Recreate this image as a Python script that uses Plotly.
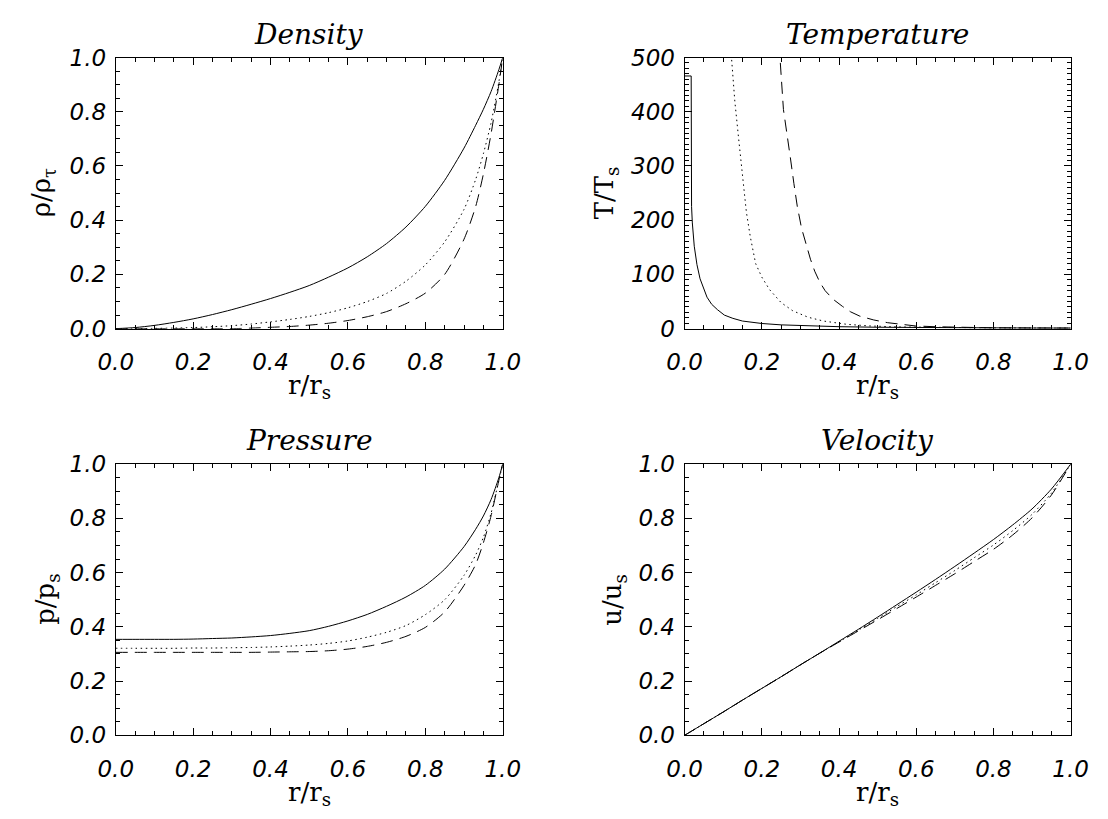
import plotly.graph_objects as go

# ── data ─────────────────────────────────────────────────────────────────
r_grid = [0.0, 0.05, 0.1, 0.15, 0.2, 0.25, 0.3, 0.35, 0.4, 0.45, 0.5, 0.55, 0.6,
          0.65, 0.7, 0.75, 0.8, 0.85, 0.9, 0.93, 0.95, 0.97, 0.99, 1.0]

density_solid = [0.0, 0.004, 0.012, 0.023, 0.036, 0.052, 0.07, 0.09, 0.111, 0.134, 0.159, 0.19, 0.224,
                 0.265, 0.314, 0.375, 0.451, 0.547, 0.666, 0.75, 0.809, 0.875, 0.955, 1.0]
density_dot = [0.0, 0.0, 0.001, 0.002, 0.004, 0.007, 0.011, 0.017, 0.025, 0.034, 0.045, 0.059, 0.077,
               0.1, 0.13, 0.175, 0.235, 0.32, 0.44, 0.55, 0.645, 0.76, 0.91, 1.0]
density_dash = [0.0, 0.0, 0.0, 0.0, 0.0, 0.0, 0.0, 0.002, 0.005, 0.008, 0.013, 0.02, 0.03,
                0.044, 0.063, 0.092, 0.131, 0.2, 0.33, 0.45, 0.57, 0.72, 0.9, 1.0]

pressure_solid = [0.354, 0.354, 0.354, 0.354, 0.355, 0.357, 0.359, 0.363, 0.368, 0.376, 0.386, 0.402, 0.422,
                  0.446, 0.476, 0.51, 0.553, 0.613, 0.696, 0.76, 0.809, 0.87, 0.95, 1.0]
pressure_dot = [0.321, 0.321, 0.321, 0.321, 0.322, 0.322, 0.323, 0.324, 0.326, 0.329, 0.333, 0.339, 0.348,
                0.362, 0.38, 0.405, 0.445, 0.5, 0.59, 0.665, 0.73, 0.82, 0.94, 1.0]
pressure_dash = [0.306, 0.306, 0.306, 0.306, 0.306, 0.306, 0.306, 0.306, 0.307, 0.308, 0.309, 0.312, 0.318,
                 0.328, 0.343, 0.365, 0.398, 0.455, 0.553, 0.63, 0.71, 0.81, 0.94, 1.0]

r_vel = [0.0, 0.05, 0.1, 0.15, 0.2, 0.25, 0.3, 0.35, 0.4, 0.45, 0.5, 0.55, 0.6,
         0.65, 0.7, 0.75, 0.8, 0.85, 0.9, 0.95, 1.0]
velocity_solid = [0.0, 0.043, 0.086, 0.13, 0.173, 0.216, 0.26, 0.303, 0.347, 0.391, 0.436, 0.482, 0.528,
                  0.575, 0.623, 0.672, 0.722, 0.776, 0.835, 0.908, 1.0]
velocity_dot = [0.0, 0.043, 0.086, 0.13, 0.173, 0.216, 0.26, 0.303, 0.345, 0.388, 0.431, 0.475, 0.518,
                0.563, 0.608, 0.655, 0.702, 0.755, 0.815, 0.893, 1.0]
velocity_dash = [0.0, 0.043, 0.086, 0.13, 0.173, 0.216, 0.26, 0.303, 0.344, 0.385, 0.426, 0.468, 0.51,
                 0.553, 0.596, 0.641, 0.686, 0.739, 0.802, 0.886, 1.0]

r_temp_solid = [0.0, 0.017, 0.018, 0.02, 0.025, 0.032, 0.04, 0.05, 0.058, 0.07, 0.085, 0.103,
                0.125, 0.15, 0.2, 0.25, 0.3, 0.4, 0.5, 0.6, 0.7, 0.8, 0.9, 1.0]
temp_solid = [466, 466, 225, 195, 152, 118, 92, 72, 58, 45, 35, 25,
              19, 14, 9.5, 7, 5.5, 3.6, 2.6, 2, 1.6, 1.3, 1.1, 1.0]
r_temp_dot = [0.115, 0.121, 0.13, 0.14, 0.15, 0.16, 0.17, 0.184, 0.2, 0.22, 0.25, 0.28,
              0.32, 0.36, 0.42, 0.48, 0.55, 0.65, 0.8, 1.0]
temp_dot = [560, 500, 420, 350, 280, 215, 170, 120, 95, 72, 48, 33,
            21, 14, 8, 5, 3.2, 2.2, 1.4, 1.0]
r_temp_dash = [0.24, 0.247, 0.256, 0.265, 0.274, 0.283, 0.292, 0.303, 0.315, 0.326, 0.337, 0.35,
               0.364, 0.385, 0.409, 0.43, 0.454, 0.49, 0.526, 0.56, 0.598, 0.65, 0.724, 0.8, 0.9, 1.0]
temp_dash = [560, 500, 404, 355, 315, 268, 225, 185, 154, 128, 106, 86,
             70, 54, 41, 31, 23, 16, 11, 7.5, 5, 3.5, 2, 1.5, 1.2, 1.0]

W, H = 1108, 819
TICK_FONT = dict(family="DejaVu Sans", size=23, color="black", style="italic")
TITLE_FONT = dict(family="DejaVu Serif", size=28, color="black", style="italic")
LABEL_FONT = dict(family="DejaVu Serif", size=26, color="black")

DOT = "1.5px,3.5px"
DASH = "12px,7px"

# panel boxes in pixels: (left, right, top, bottom)
panels = {
    1: (101, 501, 46, 326),
    2: (689, 1088, 46, 326),
    3: (101, 501, 466, 746),
    4: (689, 1088, 466, 746),
}


def px_x(v):
    return v / W


def px_y(v):
    return 1 - v / H


fig = go.Figure()


def add_line(n, x, y, dash, shape="spline"):
    fig.add_trace(go.Scatter(
        x=x, y=y, mode="lines", xaxis=f"x{n}", yaxis=f"y{n}",
        line=dict(color="black", width=1, dash=dash, shape=shape, smoothing=0.7),
        showlegend=False, hoverinfo="skip",
    ))


add_line(1, r_grid, density_solid, "solid")
add_line(1, r_grid, density_dot, DOT)
add_line(1, r_grid, density_dash, DASH)

add_line(2, r_temp_solid, temp_solid, "solid", "linear")
add_line(2, r_temp_dot, temp_dot, DOT, "linear")
add_line(2, r_temp_dash, temp_dash, DASH, "linear")

add_line(3, r_grid, pressure_solid, "solid")
add_line(3, r_grid, pressure_dot, DOT)
add_line(3, r_grid, pressure_dash, DASH)

add_line(4, r_vel, velocity_solid, "solid")
add_line(4, r_vel, velocity_dot, DOT)
add_line(4, r_vel, velocity_dash, DASH)


def axis_common():
    return dict(
        showline=True, linecolor="black", linewidth=1, mirror="allticks",
        ticks="inside", ticklen=7, tickcolor="black", tickwidth=1,
        showgrid=False, zeroline=False, tickfont=TICK_FONT, fixedrange=True,
    )


layout = {}
for n, (l, r, t, b) in panels.items():
    xa = axis_common()
    xa.update(domain=[px_x(l), px_x(r)], range=[0, 1], dtick=0.2, tick0=0,
              tickformat=".1f", anchor=f"y{n}", ticklabelstandoff=13,
              minor=dict(ticks="inside", dtick=0.05, ticklen=4, tickcolor="black"))
    ya = axis_common()
    if n == 2:
        ya.update(range=[0, 500], dtick=100, tick0=0,
                  minor=dict(ticks="inside", dtick=10, ticklen=4, tickcolor="black"))
    else:
        ya.update(range=[0, 1], dtick=0.2, tick0=0, tickformat=".1f",
                  minor=dict(ticks="inside", dtick=0.05, ticklen=4, tickcolor="black"))
    ya.update(domain=[px_y(b), px_y(t)], anchor=f"x{n}", ticklabelstandoff=4)
    key = "" if n == 1 else str(n)
    layout[f"xaxis{key}"] = xa
    layout[f"yaxis{key}"] = ya

fig.update_layout(**layout)

titles = {1: "Density", 2: "Temperature", 3: "Pressure", 4: "Velocity"}
ylabels = {1: "ρ/ρ<sub>τ</sub>", 2: "T/T<sub>s</sub>", 3: "p/p<sub>s</sub>", 4: "u/u<sub>s</sub>"}
ylabel_x = {1: 25, 2: 607, 3: 30, 4: 616}

for n, (l, r, t, b) in panels.items():
    cx = (l + r) / 2
    fig.add_annotation(x=px_x(cx), y=px_y(t - 24), xref="paper", yref="paper",
                       text=titles[n], showarrow=False, font=TITLE_FONT,
                       xanchor="center", yanchor="middle")
    fig.add_annotation(x=px_x(cx), y=px_y(b + 60), xref="paper", yref="paper",
                       text="r/r<sub>s</sub>", showarrow=False, font=LABEL_FONT,
                       xanchor="center", yanchor="middle")
    fig.add_annotation(x=px_x(ylabel_x[n]), y=px_y((t + b) / 2), xref="paper", yref="paper",
                       text=ylabels[n], showarrow=False, font=LABEL_FONT, textangle=-90,
                       xanchor="center", yanchor="middle")

fig.update_layout(
    width=W, height=H, autosize=False,
    margin=dict(l=0, r=0, t=0, b=0),
    paper_bgcolor="white", plot_bgcolor="white",
)

fig.write_html("out.html", config={"displayModeBar": False},
               post_script="document.body.style.margin='0';")
